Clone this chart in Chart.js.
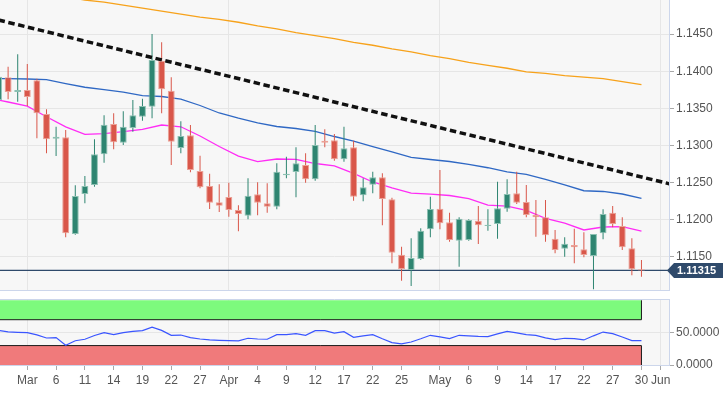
<!DOCTYPE html>
<html>
<head>
<meta charset="utf-8">
<title>EUR/USD daily</title>
<script src="https://cdn.jsdelivr.net/npm/chart.js@4.4.1/dist/chart.umd.min.js"></script>
<style>
  html, body { margin: 0; padding: 0; background: #ffffff; }
  #wrap { position: relative; width: 723px; height: 395px; overflow: hidden; }
  #price { position: absolute; left: 0; top: 0; }
  #osc { position: absolute; left: 0; top: 292px; }
</style>
</head>
<body>
<div id="wrap">
  <canvas id="price" width="723" height="292"></canvas>
  <canvas id="osc" width="723" height="103"></canvas>
</div>
<script>
// trading days, index in this list = x position on both charts
var days = ["Feb 26", "Feb 27", "Feb 28", "Mar 1", "Mar 4", "Mar 5", "Mar 6", "Mar 7", "Mar 8",
    "Mar 11", "Mar 12", "Mar 13", "Mar 14", "Mar 15", "Mar 18", "Mar 19", "Mar 20", "Mar 21", "Mar 22",
    "Mar 25", "Mar 26", "Mar 27", "Mar 28", "Mar 29", "Apr 1", "Apr 2", "Apr 3", "Apr 4", "Apr 5",
    "Apr 8", "Apr 9", "Apr 10", "Apr 11", "Apr 12", "Apr 15", "Apr 16", "Apr 17", "Apr 18", "Apr 19",
    "Apr 22", "Apr 23", "Apr 24", "Apr 25", "Apr 26", "Apr 29", "Apr 30", "May 1", "May 2", "May 3",
    "May 6", "May 7", "May 8", "May 9", "May 10", "May 13", "May 14", "May 15", "May 16", "May 17",
    "May 20", "May 21", "May 22", "May 23", "May 24", "May 27", "May 28", "May 29", "May 30"];

var opens = [1.13612, 1.13918, 1.13720, 1.13747, 1.13877, 1.13423, 1.13090, 1.13109, 1.11806, 1.12345,
    1.12466, 1.12880, 1.13288, 1.13036, 1.13234, 1.13387, 1.13522, 1.14137, 1.13737, 1.12965,
    1.13136, 1.12655, 1.12453, 1.12233, 1.12305, 1.12129, 1.12053, 1.12341, 1.12220, 1.12174,
    1.12597, 1.12641, 1.12736, 1.12543, 1.13063, 1.13069, 1.12813, 1.12974, 1.12327, 1.12470,
    1.12570, 1.12274, 1.11527, 1.11321, 1.11469, 1.11869, 1.12147, 1.11964, 1.11716, 1.11725,
    1.11985, 1.11914, 1.11941, 1.12147, 1.12354, 1.12237, 1.12062, 1.12031, 1.11743, 1.11608,
    1.11658, 1.11600, 1.11509, 1.11815, 1.12093, 1.11914, 1.11613, 1.11330];
var highs = [1.13960, 1.14061, 1.14228, 1.14097, 1.13900, 1.13487, 1.13252, 1.13208, 1.12462, 1.12588,
    1.13082, 1.13406, 1.13433, 1.13460, 1.13612, 1.13629, 1.14501, 1.14389, 1.13918, 1.13325,
    1.13275, 1.12861, 1.12619, 1.12476, 1.12497, 1.12193, 1.12557, 1.12503, 1.12489, 1.12759,
    1.12848, 1.12974, 1.12894, 1.13275, 1.13217, 1.13154, 1.13252, 1.13063, 1.12557, 1.12646,
    1.12624, 1.12295, 1.11635, 1.11748, 1.11883, 1.12309, 1.12668, 1.12093, 1.12031, 1.12004,
    1.12183, 1.12139, 1.12511, 1.12543, 1.12646, 1.12466, 1.12264, 1.12264, 1.11860, 1.11761,
    1.11877, 1.11829, 1.11806, 1.12139, 1.12183, 1.12031, 1.11748, 1.11456];
var lows = [1.13560, 1.13621, 1.13589, 1.13531, 1.13096, 1.12894, 1.12857, 1.11761, 1.11797, 1.12220,
    1.12443, 1.12767, 1.12947, 1.13005, 1.13185, 1.13333, 1.13365, 1.13433, 1.12736, 1.12894,
    1.12637, 1.12422, 1.12143, 1.12102, 1.12039, 1.11842, 1.12004, 1.12058, 1.12093, 1.12139,
    1.12557, 1.12301, 1.12497, 1.12524, 1.12974, 1.12794, 1.12780, 1.12255, 1.12247, 1.12354,
    1.11923, 1.11411, 1.11177, 1.11105, 1.11460, 1.11761, 1.11869, 1.11702, 1.11365, 1.11716,
    1.11671, 1.11850, 1.11743, 1.12106, 1.12210, 1.12031, 1.11770, 1.11702, 1.11546, 1.11500,
    1.11411, 1.11492, 1.11061, 1.11735, 1.11896, 1.11590, 1.11249, 1.11230];
var closes = [1.13926, 1.13720, 1.13747, 1.13652, 1.13433, 1.13082, 1.13117, 1.11815, 1.12318, 1.12453,
    1.12880, 1.13279, 1.13042, 1.13252, 1.13406, 1.13531, 1.14151, 1.13756, 1.13050, 1.13127,
    1.12668, 1.12435, 1.12228, 1.12187, 1.12129, 1.12075, 1.12322, 1.12228, 1.12174, 1.12646,
    1.12619, 1.12759, 1.12543, 1.13005, 1.13036, 1.12813, 1.12961, 1.12309, 1.12435, 1.12570,
    1.12278, 1.11554, 1.11334, 1.11482, 1.11850, 1.12143, 1.11950, 1.11725, 1.12012, 1.11995,
    1.11923, 1.11931, 1.12152, 1.12345, 1.12228, 1.12062, 1.12031, 1.11788, 1.11590, 1.11675,
    1.11627, 1.11523, 1.11806, 1.12075, 1.11941, 1.11627, 1.11330, 1.11315];

// moving averages, read every second day
var maIdx = [0, 1, 3, 5, 7, 9, 11, 13, 15, 17, 19, 21, 23, 25, 27, 29, 31, 33, 35, 37, 39, 41, 43, 45,
    47, 49, 51, 53, 55, 57, 59, 61, 63, 65, 67];
var sma20 = [1.13612, 1.13585, 1.13528, 1.13387, 1.13251, 1.13150, 1.13159, 1.13187, 1.13216, 1.13275,
    1.13251, 1.13127, 1.12985, 1.12857, 1.12782, 1.12817, 1.12813, 1.12756, 1.12725, 1.12624,
    1.12507, 1.12426, 1.12358, 1.12342, 1.12325, 1.12282, 1.12195, 1.12181, 1.12125, 1.12018,
    1.11951, 1.11860, 1.11900, 1.11904, 1.11846];
var sma50 = [1.13900, 1.13900, 1.13895, 1.13887, 1.13833, 1.13784, 1.13752, 1.13717, 1.13671, 1.13659,
    1.13623, 1.13538, 1.13437, 1.13367, 1.13305, 1.13255, 1.13228, 1.13190, 1.13120, 1.13059,
    1.12985, 1.12914, 1.12840, 1.12810, 1.12783, 1.12745, 1.12699, 1.12644, 1.12609, 1.12542,
    1.12469, 1.12389, 1.12379, 1.12345, 1.12287];
var sma200 = [1.1514, 1.1512, 1.1508, 1.1504, 1.1500, 1.1496, 1.1493, 1.1489, 1.1485, 1.1481,
    1.1477, 1.1473, 1.1470, 1.1466, 1.1461, 1.1457, 1.1452, 1.1448, 1.1444, 1.1439,
    1.1435, 1.1430, 1.1426, 1.1421, 1.1417, 1.1412, 1.1408, 1.1404, 1.1399, 1.1397,
    1.1394, 1.1392, 1.1390, 1.1386, 1.1382];

var rsi = [53.5, 51.2, 50.5, 50.0, 46.6, 41.7, 42.4, 30.6, 37.5, 39.8,
    45.6, 50.0, 46.9, 50.0, 52.0, 53.1, 58.6, 53.5, 45.9, 46.3,
    42.4, 40.2, 38.7, 38.2, 37.8, 37.2, 41.3, 40.2, 39.8, 46.9,
    46.9, 48.5, 45.9, 53.1, 53.1, 49.4, 51.5, 42.8, 45.1, 46.9,
    40.5, 34.7, 32.6, 35.6, 40.5, 45.9, 43.6, 40.8, 45.9, 45.1,
    44.3, 43.9, 48.2, 52.0, 49.7, 46.9, 45.9, 42.0, 39.3, 41.3,
    40.8, 38.7, 45.1, 50.9, 48.5, 43.3, 37.8, 37.8];

var trendIdx = [0, 70];
var trendVals = [1.1469, 1.1248];
var lastPrice = 1.11315;

var priceTicks = [1.115, 1.12, 1.125, 1.13, 1.135, 1.14, 1.145, 1.15];
var rsiTicks = [0, 50];
var overbought = [70, 100];
var oversold = [0, 30];
var xTickIdx = [3, 6, 9, 12, 15, 18, 21, 24, 27, 30, 33, 36, 39, 42, 46, 49, 52, 55, 58, 61, 64, 67, 69];
var xTickLabels = ["Mar", "6", "11", "14", "19", "22", "27", "Apr", "4", "9", "12", "17", "22", "25",
    "May", "6", "9", "14", "17", "22", "27", "30", "Jun"];
var monthIdx = [3, 24, 46, 69];

var X_MIN = 0.155, X_MAX = 69.87;
var UP = "#2e8571", DOWN = "#d9574a", UP_RIM = "#8cc0b2", DOWN_RIM = "#eba196";

Chart.defaults.font.family = '"Liberation Sans", Arial, sans-serif';
Chart.defaults.font.size = 12;
Chart.defaults.animation = false;

function pts(xs, ys) {
    return xs.map(function(x, i) { return { x: x, y: ys[i] }; });
}
function toTicks(list) {
    return function(scale) { scale.ticks = list.map(function(v) { return { value: v }; }); };
}

var isUp = closes.map(function(c, i) { return c >= opens[i]; });
var fillCol = isUp.map(function(u) { return u ? UP : DOWN; });
var rimCol = isUp.map(function(u) { return u ? UP_RIM : DOWN_RIM; });

var plotBg = {
    id: "plotBg",
    beforeDraw: function(chart) {
        var a = chart.chartArea, ctx = chart.ctx;
        ctx.save();
        ctx.fillStyle = "#f7f7f7";
        ctx.fillRect(a.left, a.top, a.right - a.left, a.bottom - a.top);
        ctx.restore();
    }
};

var priceTag = {
    id: "priceTag",
    afterDraw: function(chart) {
        var ctx = chart.ctx, y = chart.scales.y.getPixelForValue(lastPrice);
        var x0 = chart.chartArea.right - 2, h = 7.5;
        ctx.save();
        ctx.fillStyle = "#2f4a6b";
        ctx.beginPath();
        ctx.moveTo(x0, y);
        ctx.lineTo(x0 + 7, y - h);
        ctx.lineTo(chart.width, y - h);
        ctx.lineTo(chart.width, y + h);
        ctx.lineTo(x0 + 7, y + h);
        ctx.closePath();
        ctx.fill();
        ctx.fillStyle = "#ffffff";
        ctx.font = 'bold 11px "Liberation Sans", Arial, sans-serif';
        ctx.textBaseline = "middle";
        ctx.fillText(lastPrice.toFixed(5), x0 + 10, y + 0.5);
        ctx.restore();
    }
};

var topBorder = {
    id: "topBorder",
    afterDraw: function(chart) {
        var a = chart.chartArea, ctx = chart.ctx;
        ctx.save();
        ctx.strokeStyle = "#ccd6eb";
        ctx.lineWidth = 1;
        ctx.beginPath();
        ctx.moveTo(0, Math.round(a.top) + 0.5);
        ctx.lineTo(a.right, Math.round(a.top) + 0.5);
        ctx.stroke();
        ctx.restore();
    }
};

function lineSet(data, color, width, order) {
    return { type: "line", data: data, borderColor: color, borderWidth: width, pointRadius: 0,
             fill: false, tension: 0, order: order };
}

var candleIdx = days.map(function(d, i) { return i; });

new Chart(document.getElementById("price"), {
    type: "bar",
    data: {
        datasets: [
            { type: "bar", data: candleIdx.map(function(i) { return { x: i, y: [lows[i], highs[i]] }; }),
              backgroundColor: fillCol, maxBarThickness: 1, grouped: false, order: 2 },
            { type: "bar", data: candleIdx.map(function(i) { return { x: i, y: [opens[i], closes[i]] }; }),
              backgroundColor: fillCol, borderColor: rimCol, borderWidth: 1, borderSkipped: false,
              maxBarThickness: 7, minBarLength: 1, grouped: false, order: 1 },
            lineSet(pts(maIdx, sma200), "#f7a21b", 1.3, 3),
            lineSet(pts(maIdx, sma50), "#2f68c4", 1.3, 3),
            lineSet(pts(maIdx, sma20), "#ff2cf5", 1.3, 3),
            lineSet([{ x: X_MIN - 1, y: lastPrice }, { x: X_MAX + 1, y: lastPrice }], "#2f4a6b", 1.2, 4),
            Object.assign(lineSet(pts(trendIdx, trendVals), "#111111", 3.5, 0), { borderDash: [6.5, 3.6] })
        ]
    },
    options: {
        responsive: false,
        layout: { padding: 0 },
        plugins: { legend: { display: false }, tooltip: { enabled: false } },
        scales: {
            x: {
                type: "linear", min: X_MIN, max: X_MAX, offset: false,
                afterBuildTicks: toTicks(monthIdx),
                afterFit: function(s) { s.height = 2; s.paddingLeft = 0; s.paddingRight = 0; },
                ticks: { display: false },
                grid: { color: "#e6e6e6", drawTicks: false, offset: false },
                border: { color: "#ccd6eb" }
            },
            y: {
                position: "right", min: 1.11051, max: 1.1496,
                afterBuildTicks: toTicks(priceTicks),
                afterFit: function(s) { s.width = 54; s.paddingTop = 0; s.paddingBottom = 0; },
                ticks: { color: "#555555", padding: 2, callback: function(v) { return v.toFixed(4); } },
                grid: { color: "#e6e6e6", tickColor: "#a8a8a8", tickLength: 5 },
                border: { color: "#ccd6eb" }
            }
        }
    },
    plugins: [plotBg, priceTag]
});

new Chart(document.getElementById("osc"), {
    type: "line",
    data: {
        datasets: [
            Object.assign(lineSet([{ x: -1, y: overbought[0] }, { x: 67, y: overbought[0] }], "#1a1a1a", 1, 3),
                { fill: { value: overbought[1] }, backgroundColor: "#7dfa7d" }),
            lineSet([{ x: 67, y: overbought[0] }, { x: 67, y: overbought[1] }], "#1a1a1a", 1, 2),
            Object.assign(lineSet([{ x: -1, y: oversold[1] }, { x: 67, y: oversold[1] }], "#1a1a1a", 1, 3),
                { fill: { value: oversold[0] }, backgroundColor: "#f07a7b" }),
            lineSet([{ x: 67, y: oversold[0] }, { x: 67, y: oversold[1] }], "#1a1a1a", 1, 2),
            lineSet(candleIdx.map(function(i) { return { x: i, y: rsi[i] }; }), "#3a55ff", 1.2, 0)
        ]
    },
    options: {
        responsive: false,
        layout: { padding: { top: 7 } },
        plugins: { legend: { display: false }, tooltip: { enabled: false } },
        scales: {
            x: {
                type: "linear", min: X_MIN, max: X_MAX, offset: false,
                afterBuildTicks: toTicks(xTickIdx),
                afterFit: function(s) { s.height = 30; s.paddingLeft = 0; s.paddingRight = 0; },
                ticks: { autoSkip: false, maxRotation: 0, padding: 3, color: "#555555",
                         callback: function(v, i) { return xTickLabels[i]; } },
                grid: {
                    color: function(c) {
                        return c.tick && monthIdx.indexOf(c.tick.value) >= 0 ? "#e6e6e6" : "rgba(0,0,0,0)";
                    },
                    tickColor: "#a8a8a8", tickLength: 5
                },
                border: { color: "#ccd6eb" }
            },
            y: {
                position: "right", min: 0, max: 102,
                afterBuildTicks: toTicks(rsiTicks),
                afterFit: function(s) { s.width = 54; s.paddingTop = 0; s.paddingBottom = 0; },
                ticks: { color: "#555555", padding: 2, callback: function(v) { return v.toFixed(4); } },
                grid: { color: "#e6e6e6", tickColor: "#a8a8a8", tickLength: 5 },
                border: { color: "#ccd6eb" }
            }
        }
    },
    plugins: [plotBg, topBorder]
});
</script>
</body>
</html>
